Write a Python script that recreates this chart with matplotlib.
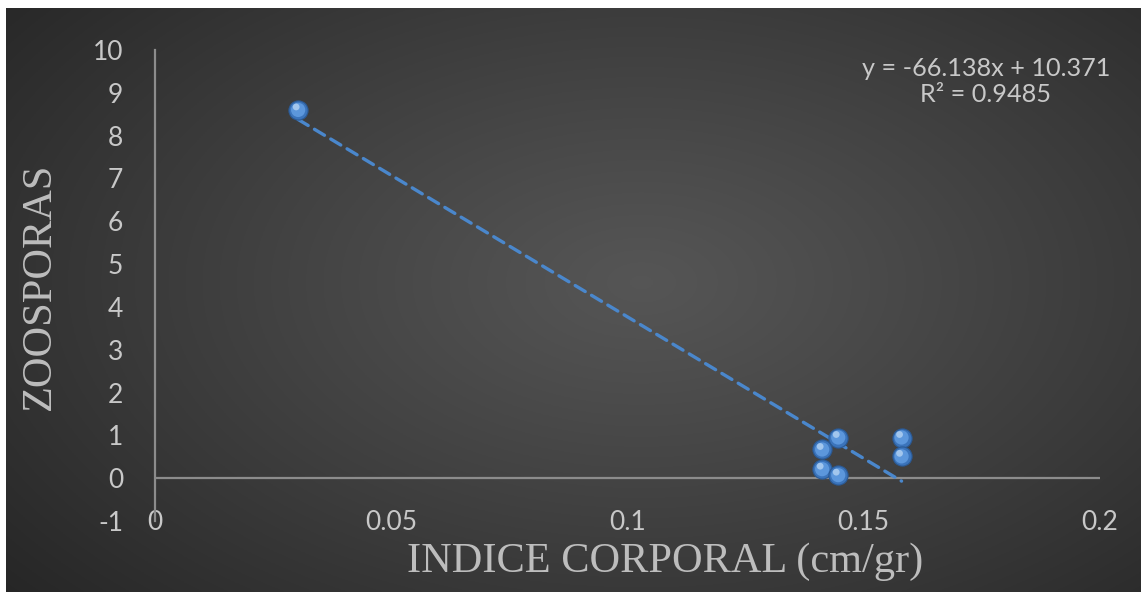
import matplotlib
matplotlib.use("Agg")
import matplotlib.pyplot as plt
import matplotlib.transforms as mtransforms
import numpy as np

# data
indice = [0.0303, 0.1446, 0.1412, 0.1412, 0.1446, 0.1580, 0.1580]
zoosporas = [8.60, 0.95, 0.67, 0.21, 0.07, 0.95, 0.51]
x_ticks = [0, 0.05, 0.1, 0.15, 0.2]
x_tick_labels = ["0", "0.05", "0.1", "0.15", "0.2"]
y_ticks = list(range(-1, 11))
eq_text = "y = -66.138x + 10.371"
r2_text = "R² = 0.9485"

plt.rcParams["axes.unicode_minus"] = False

W, H = 1141, 592
fig = plt.figure(figsize=(W / 100, H / 100), dpi=100)
fig.patch.set_facecolor("white")

# radial gradient background
bg = fig.add_axes([6 / W, 0, 1 - 6 / W, 1 - 8 / H])
gx, gy = np.meshgrid(np.linspace(0, 1, 600), np.linspace(0, 1, 320))
d = np.sqrt(((gx - 0.56) / 0.75) ** 2 + ((gy - 0.47) / 0.85) ** 2)
d = np.clip(d, 0, 1)
shade = 0.335 - (0.335 - 0.145) * d ** 1.1
bg.imshow(np.dstack([shade, shade, shade]), aspect="auto", extent=[0, 1, 0, 1])
bg.axis("off")

left, right = 155 / W, 1100 / W
bottom, top = 1 - 521 / H, 1 - 50 / H
ax = fig.add_axes([left, bottom, right - left, top - bottom])
ax.patch.set_alpha(0)

txt = "#c8c8c8"
ax.set_xlim(0, 0.2)
ax.set_ylim(-1, 10)
for s in ["top", "right", "bottom"]:
    ax.spines[s].set_visible(False)
ax.spines["left"].set_color("#8c8c8c")
ax.spines["left"].set_linewidth(1.6)
ax.axhline(0, color="#8c8c8c", lw=1.6, zorder=1)

ax.set_xticks(x_ticks)
ax.set_xticklabels(x_tick_labels)
ax.set_yticks(y_ticks)
ax.tick_params(axis="both", length=0, labelsize=19, labelcolor=txt)
ax.tick_params(axis="x", pad=-8)
ax.tick_params(axis="y", pad=23)
for lbl in ax.get_xticklabels() + ax.get_yticklabels():
    lbl.set_fontfamily("Lato")

# trend line
coef = np.polyfit(indice, zoosporas, 1)
xs = np.array([min(indice), max(indice)])
ax.plot(xs, np.polyval(coef, xs), color="#4a87cc", lw=2.4,
        dashes=(3.5, 2.2), dash_capstyle="round", zorder=2)

# sphere-like markers
ax.scatter(indice, zoosporas, s=190, color="#3b74bb", edgecolors="#2b5a95",
           linewidths=0.8, zorder=3)
ax.scatter(indice, zoosporas, s=105, color="#5c97dc", edgecolors="none", zorder=4)
hl = ax.transData + mtransforms.ScaledTranslation(-2 / 100, 3 / 100, fig.dpi_scale_trans)
ax.scatter(indice, zoosporas, s=24, color="#b4d2f2", edgecolors="none",
           alpha=0.8, zorder=5, transform=hl)

ax.set_xlabel("INDICE CORPORAL (cm/gr)", family="Liberation Serif",
              fontsize=30.5, color="#bdbdbd", va="center")
ax.xaxis.set_label_coords((665 - 155) / 945, (521 - 562) / 471)
ax.set_ylabel("ZOOSPORAS", family="Liberation Serif",
              fontsize=30.5, color="#bdbdbd", va="center")
ax.yaxis.set_label_coords((40 - 155) / 945, (521 - 286) / 471)

ax.text((986 - 155) / 945, (521 - 68) / 471, eq_text, transform=ax.transAxes,
        ha="center", va="center", fontsize=18.2, color=txt, family="Lato")
ax.text((986 - 155) / 945, (521 - 95) / 471, r2_text, transform=ax.transAxes,
        ha="center", va="center", fontsize=18.2, color=txt, family="Lato")

fig.savefig("out.png", dpi=100, facecolor=fig.get_facecolor())
